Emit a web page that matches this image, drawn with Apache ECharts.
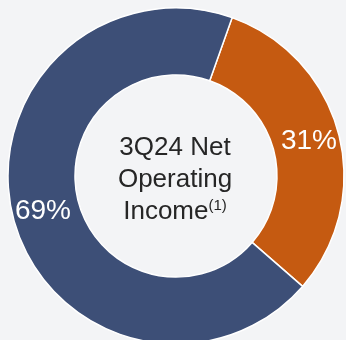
<!DOCTYPE html>
<html>
<head>
<meta charset="utf-8">
<script src="https://cdn.jsdelivr.net/npm/echarts@6/dist/echarts.min.js"></script>
<style>
  html, body { margin: 0; padding: 0; background: #f3f4f6; }
  #chart { width: 346px; height: 340px; }
</style>
</head>
<body>
<div id="chart"></div>
<script>
// Share of net operating income by segment (percent)
const segments = ['Segment B', 'Segment A'];
const shares = [31, 69];
const colors = ['#c55a11', '#3d4f77'];

const chart = echarts.init(document.getElementById('chart'), null, { renderer: 'canvas' });

const font = 'Liberation Sans, Arial, sans-serif';

chart.setOption({
  backgroundColor: '#f3f4f6',
  animation: false,
  graphic: [{
    type: 'text',
    x: 175,
    y: 180,
    silent: true,
    style: {
      align: 'center',
      verticalAlign: 'middle',
      text: '{m|3Q24 Net}\n{m|Operating}\n{m|Income}{s|(1)}',
      rich: {
        m: { align: 'center', fontFamily: font, fontSize: 26, lineHeight: 32, fill: '#262626' },
        s: { align: 'center', fontFamily: font, fontSize: 15, lineHeight: 32, padding: [0, 0, 12, 0], fill: '#262626' }
      }
    }
  }],
  series: [{
    type: 'pie',
    center: [176, 176],
    radius: [101, 168],
    startAngle: 70.5,
    clockwise: true,
    silent: true,
    itemStyle: { borderColor: '#ffffff', borderWidth: 1.5 },
    label: {
      show: true,
      position: 'inside',
      formatter: '{c}%',
      color: '#ffffff',
      fontSize: 28,
      fontFamily: font
    },
    labelLine: { show: false },
    data: segments.map((name, i) => ({
      name: name,
      value: shares[i],
      itemStyle: { color: colors[i] }
    }))
  }]
});
</script>
</body>
</html>
